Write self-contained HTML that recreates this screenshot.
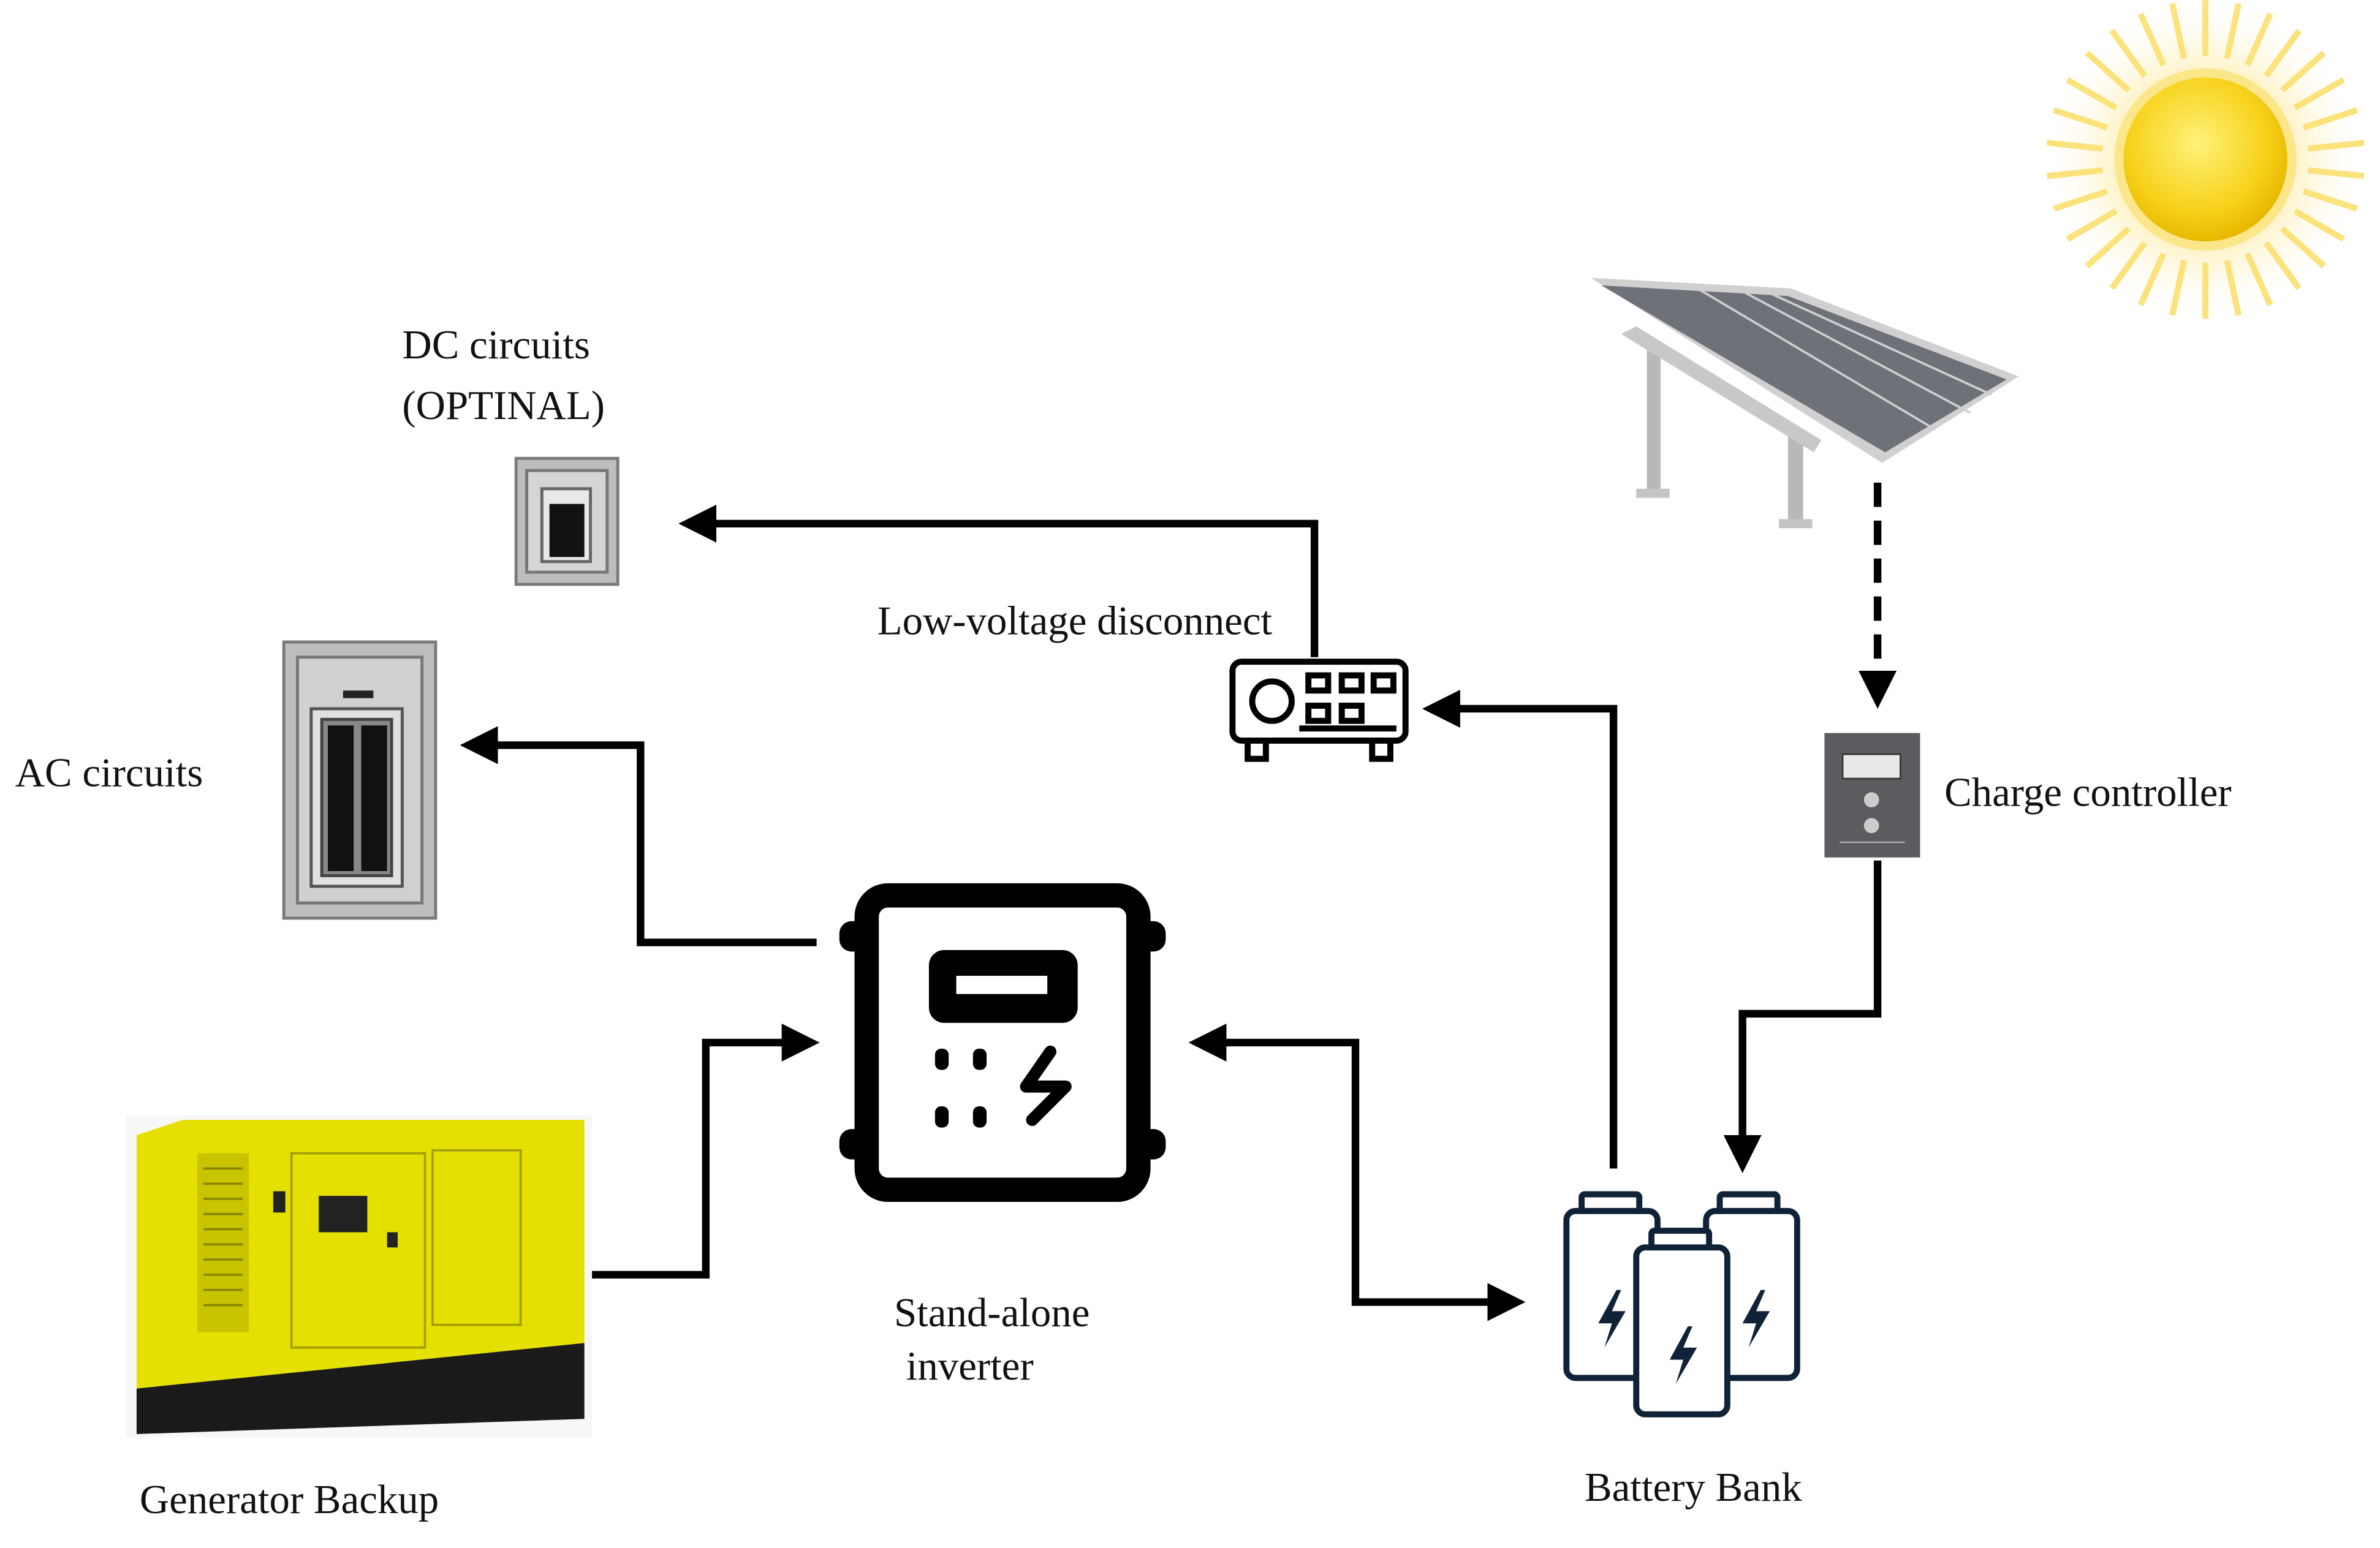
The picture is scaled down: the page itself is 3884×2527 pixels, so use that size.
<!DOCTYPE html>
<html><head><meta charset="utf-8"><style>
html,body{margin:0;padding:0;background:#fff;width:3884px;height:2527px;overflow:hidden}
svg{display:block}
text{font-family:"Liberation Serif",serif;font-size:27px;fill:#111}
</style></head><body>
<svg width="3884" height="2527" viewBox="0 0 1568 1020" xmlns="http://www.w3.org/2000/svg">
<defs>
<marker id="ah" markerWidth="5" markerHeight="5" refX="4" refY="2.5" orient="auto" markerUnits="strokeWidth"><path d="M0,0 L5,2.5 L0,5 z" fill="#000"/></marker>
<marker id="ah2" markerWidth="5" markerHeight="5" refX="1" refY="2.5" orient="auto" markerUnits="strokeWidth"><path d="M5,0 L0,2.5 L5,5 z" fill="#000"/></marker>
<radialGradient id="sun" cx="0.45" cy="0.4" r="0.6"><stop offset="0" stop-color="#fff27a"/><stop offset="0.7" stop-color="#f7d11a"/><stop offset="1" stop-color="#e8b800"/></radialGradient>
<radialGradient id="glow" r="0.5"><stop offset="0.5" stop-color="#fbe27a"/><stop offset="1" stop-color="#fff" stop-opacity="0"/></radialGradient>
</defs>
<!-- sun -->
<g transform="translate(1453,105)">
<circle r="108" fill="url(#glow)" opacity="0.5"/>
<g stroke="#fbe27a" stroke-width="4">
<line x1="0" y1="-68" x2="0" y2="-105"/><line x1="0" y1="-68" x2="0" y2="-105" transform="rotate(12)"/><line x1="0" y1="-68" x2="0" y2="-105" transform="rotate(24)"/><line x1="0" y1="-68" x2="0" y2="-105" transform="rotate(36)"/><line x1="0" y1="-68" x2="0" y2="-105" transform="rotate(48)"/><line x1="0" y1="-68" x2="0" y2="-105" transform="rotate(60)"/><line x1="0" y1="-68" x2="0" y2="-105" transform="rotate(72)"/><line x1="0" y1="-68" x2="0" y2="-105" transform="rotate(84)"/><line x1="0" y1="-68" x2="0" y2="-105" transform="rotate(96)"/><line x1="0" y1="-68" x2="0" y2="-105" transform="rotate(108)"/><line x1="0" y1="-68" x2="0" y2="-105" transform="rotate(120)"/><line x1="0" y1="-68" x2="0" y2="-105" transform="rotate(132)"/><line x1="0" y1="-68" x2="0" y2="-105" transform="rotate(144)"/><line x1="0" y1="-68" x2="0" y2="-105" transform="rotate(156)"/><line x1="0" y1="-68" x2="0" y2="-105" transform="rotate(168)"/><line x1="0" y1="-68" x2="0" y2="-105" transform="rotate(180)"/><line x1="0" y1="-68" x2="0" y2="-105" transform="rotate(192)"/><line x1="0" y1="-68" x2="0" y2="-105" transform="rotate(204)"/><line x1="0" y1="-68" x2="0" y2="-105" transform="rotate(216)"/><line x1="0" y1="-68" x2="0" y2="-105" transform="rotate(228)"/><line x1="0" y1="-68" x2="0" y2="-105" transform="rotate(240)"/><line x1="0" y1="-68" x2="0" y2="-105" transform="rotate(252)"/><line x1="0" y1="-68" x2="0" y2="-105" transform="rotate(264)"/><line x1="0" y1="-68" x2="0" y2="-105" transform="rotate(276)"/><line x1="0" y1="-68" x2="0" y2="-105" transform="rotate(288)"/><line x1="0" y1="-68" x2="0" y2="-105" transform="rotate(300)"/><line x1="0" y1="-68" x2="0" y2="-105" transform="rotate(312)"/><line x1="0" y1="-68" x2="0" y2="-105" transform="rotate(324)"/><line x1="0" y1="-68" x2="0" y2="-105" transform="rotate(336)"/><line x1="0" y1="-68" x2="0" y2="-105" transform="rotate(348)"/>
</g>
<circle r="60" fill="#fbe78a"/>
<circle r="54" fill="url(#sun)"/>
</g>
<!-- solar panel -->
<g>
<rect x="1085" y="230" width="9" height="95" fill="#b8b8b8"/>
<rect x="1078" y="322" width="22" height="6" fill="#c4c4c4"/>
<rect x="1178" y="285" width="10" height="60" fill="#b8b8b8"/>
<rect x="1172" y="342" width="22" height="6" fill="#c4c4c4"/>
<polygon points="1068,220 1078,215 1200,290 1195,298" fill="#c8c8c8"/>
<polygon points="1048,183 1180,190 1330,248 1240,305" fill="#d0d0d0"/>
<polygon points="1055,188 1178,195 1322,250 1242,298" fill="#6e7178"/>
<line x1="1120" y1="191" x2="1275" y2="283" stroke="#cfcfcf" stroke-width="1.5"/>
<line x1="1150" y1="193" x2="1298" y2="272" stroke="#cfcfcf" stroke-width="1.5"/>
<line x1="1168" y1="194" x2="1312" y2="260" stroke="#cfcfcf" stroke-width="1.5"/>
</g>
<!-- connectors -->
<g fill="none" stroke="#000" stroke-width="5">
<line x1="1237" y1="318" x2="1237" y2="462" stroke-dasharray="16,9" marker-end="url(#ah)"/>
<polyline points="1237,567 1237,668 1148,668 1148,768" marker-end="url(#ah)"/>
<polyline points="1063,770 1063,467 942,467" marker-end="url(#ah)"/>
<polyline points="866,433 866,345 452,345" marker-end="url(#ah)"/>
<polyline points="538,621 422,621 422,491 308,491" marker-end="url(#ah)"/>
<polyline points="390,840 465,840 465,687 535,687" marker-end="url(#ah)"/>
<polyline points="788,687 893,687 893,858 1000,858" marker-end="url(#ah)" marker-start="url(#ah2)"/>
</g>
<!-- charge controller -->
<rect x="1202" y="483" width="63" height="82" fill="#5a5c60"/>
<rect x="1214" y="497" width="38" height="16" fill="#e8e8e8" stroke="#333"/>
<circle cx="1233" cy="527" r="5" fill="#ccc"/><circle cx="1233" cy="544" r="5" fill="#ccc"/>
<line x1="1212" y1="555" x2="1255" y2="555" stroke="#aaa"/>
<!-- low voltage disconnect -->
<g fill="none" stroke="#000" stroke-width="4">
<rect x="812" y="436" width="114" height="52" rx="6"/>
<circle cx="838" cy="462" r="13"/>
<rect x="862" y="445" width="13" height="10"/><rect x="884" y="445" width="13" height="10"/><rect x="905" y="445" width="13" height="10"/>
<rect x="862" y="465" width="13" height="10"/><rect x="884" y="465" width="13" height="10"/>
<line x1="856" y1="480" x2="920" y2="480"/>
<rect x="822" y="488" width="12" height="12"/><rect x="904" y="488" width="12" height="12"/>
</g>
<!-- DC panel -->
<rect x="340" y="302" width="67" height="83" fill="#bdbdbd" stroke="#7a7a7a" stroke-width="2"/>
<rect x="347" y="310" width="53" height="67" fill="#d5d5d5" stroke="#777" stroke-width="2"/>
<rect x="357" y="322" width="32" height="48" fill="#e8e8e8" stroke="#666" stroke-width="2"/>
<rect x="362" y="332" width="23" height="35" fill="#111"/>
<!-- AC panel -->
<rect x="187" y="423" width="100" height="182" fill="#bdbdbd" stroke="#7a7a7a" stroke-width="2"/>
<rect x="196" y="433" width="82" height="162" fill="#d0d0d0" stroke="#777" stroke-width="2"/>
<rect x="226" y="455" width="20" height="5" fill="#222"/>
<rect x="205" y="467" width="60" height="117" fill="#e0e0e0" stroke="#555" stroke-width="2"/>
<rect x="212" y="474" width="46" height="103" fill="#888" stroke="#444" stroke-width="2"/>
<rect x="216" y="478" width="17" height="96" fill="#111"/><rect x="238" y="478" width="17" height="96" fill="#111"/>
<!-- inverter -->
<g>
<rect x="571" y="590" width="179" height="194" rx="14" fill="none" stroke="#000" stroke-width="16"/>
<rect x="553" y="607" width="20" height="20" rx="8" fill="#000"/><rect x="748" y="607" width="20" height="20" rx="8" fill="#000"/>
<rect x="553" y="744" width="20" height="20" rx="8" fill="#000"/><rect x="748" y="744" width="20" height="20" rx="8" fill="#000"/>
<rect x="612" y="626" width="98" height="48" rx="10" fill="#000"/>
<rect x="630" y="643" width="60" height="12" fill="#fff"/>
<rect x="616" y="691" width="9" height="14" rx="4" fill="#000"/><rect x="641" y="691" width="9" height="14" rx="4" fill="#000"/>
<rect x="616" y="729" width="9" height="14" rx="4" fill="#000"/><rect x="641" y="729" width="9" height="14" rx="4" fill="#000"/>
<polyline points="692,693 676,716 702,716 680,738" fill="none" stroke="#000" stroke-width="8" stroke-linejoin="round" stroke-linecap="round"/>
</g>
<!-- battery bank -->
<g fill="#fff" stroke="#0f2238" stroke-width="4">
<rect x="1042" y="787" width="38" height="12" rx="2"/>
<rect x="1032" y="798" width="60" height="110" rx="6"/>
<rect x="1133" y="787" width="38" height="12" rx="2"/>
<rect x="1124" y="798" width="60" height="110" rx="6"/>
<rect x="1088" y="811" width="38" height="12" rx="2"/>
<rect x="1078" y="822" width="60" height="110" rx="6"/>
</g>
<g fill="#0f2238">
<polygon points="1065,850 1053,872 1062,872 1057,888 1071,864 1062,864 1068,850"/>
<polygon points="1160,850 1148,872 1157,872 1152,888 1166,864 1157,864 1163,850"/>
<polygon points="1112,874 1100,896 1109,896 1104,912 1118,888 1109,888 1115,874"/>
</g>
<!-- generator -->
<rect x="83" y="735" width="307" height="212" fill="#f7f7f7"/>
<polygon points="90,748 120,738 385,738 385,885 90,915" fill="#e6e000"/>
<polygon points="90,915 385,885 385,935 90,945" fill="#1a1a1a"/>
<rect x="130" y="760" width="34" height="118" fill="#c8c400"/>
<g stroke="#8a8600" stroke-width="1.5"><line x1="134" y1="770" x2="160" y2="770"/><line x1="134" y1="780" x2="160" y2="780"/><line x1="134" y1="790" x2="160" y2="790"/><line x1="134" y1="800" x2="160" y2="800"/><line x1="134" y1="810" x2="160" y2="810"/><line x1="134" y1="820" x2="160" y2="820"/><line x1="134" y1="830" x2="160" y2="830"/><line x1="134" y1="840" x2="160" y2="840"/><line x1="134" y1="850" x2="160" y2="850"/><line x1="134" y1="860" x2="160" y2="860"/></g>
<rect x="192" y="760" width="88" height="128" fill="none" stroke="#a39f00" stroke-width="1.5"/>
<rect x="285" y="758" width="58" height="115" fill="none" stroke="#a39f00" stroke-width="1.5"/>
<rect x="210" y="788" width="32" height="24" fill="#222"/>
<rect x="180" y="785" width="8" height="14" fill="#222"/><rect x="255" y="812" width="7" height="10" fill="#222"/>
<!-- labels -->
<text x="265" y="236">DC circuits</text>
<text x="265" y="276">(OPTINAL)</text>
<text x="578" y="418">Low-voltage disconnect</text>
<text x="10" y="518">AC circuits</text>
<text x="1281" y="531">Charge controller</text>
<text x="589" y="874">Stand-alone</text>
<text x="597" y="909">inverter</text>
<text x="92" y="997">Generator Backup</text>
<text x="1044" y="989">Battery Bank</text>
</svg>
</body></html>
